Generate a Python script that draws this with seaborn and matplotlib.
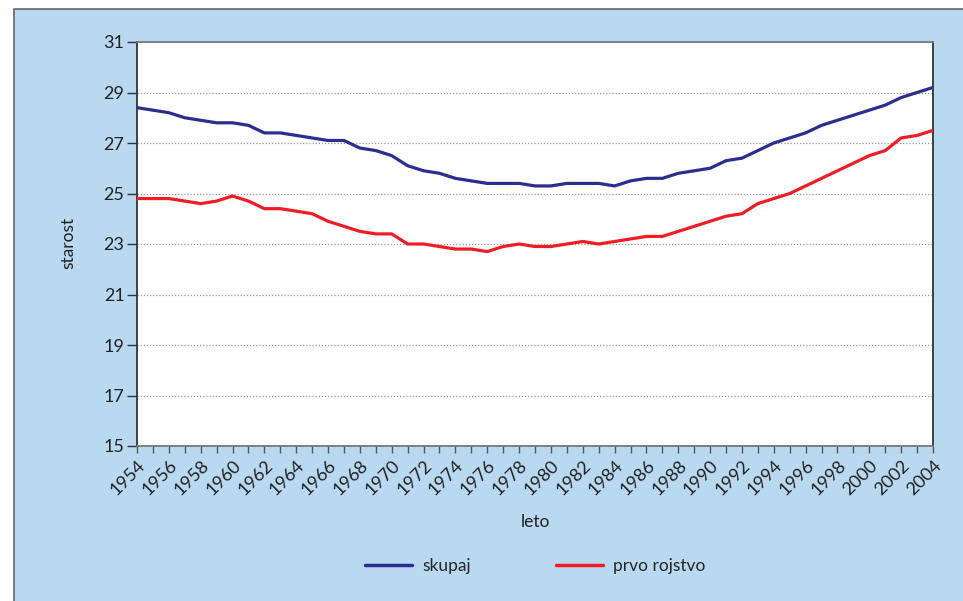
import numpy as np
import pandas as pd
import matplotlib
matplotlib.use("Agg")
import matplotlib.pyplot as plt
from matplotlib.patches import Rectangle
from matplotlib.lines import Line2D
from matplotlib.ticker import MultipleLocator
import seaborn as sns

years = list(range(1954, 2005))
skupaj = [28.4, 28.3, 28.2, 28.0, 27.9, 27.8, 27.8, 27.7, 27.4, 27.4,
          27.3, 27.2, 27.1, 27.1, 26.8, 26.7, 26.5, 26.1, 25.9, 25.8,
          25.6, 25.5, 25.4, 25.4, 25.4, 25.3, 25.3, 25.4, 25.4, 25.4,
          25.3, 25.5, 25.6, 25.6, 25.8, 25.9, 26.0, 26.3, 26.4, 26.7,
          27.0, 27.2, 27.4, 27.7, 27.9, 28.1, 28.3, 28.5, 28.8, 29.0, 29.2]
prvo_rojstvo = [24.8, 24.8, 24.8, 24.7, 24.6, 24.7, 24.9, 24.7, 24.4, 24.4,
                24.3, 24.2, 23.9, 23.7, 23.5, 23.4, 23.4, 23.0, 23.0, 22.9,
                22.8, 22.8, 22.7, 22.9, 23.0, 22.9, 22.9, 23.0, 23.1, 23.0,
                23.1, 23.2, 23.3, 23.3, 23.5, 23.7, 23.9, 24.1, 24.2, 24.6,
                24.8, 25.0, 25.3, 25.6, 25.9, 26.2, 26.5, 26.7, 27.2, 27.3, 27.5]
series_names = ["skupaj", "prvo rojstvo"]
colors = ["#2B2E8E", "#EE1D25"]
x_ticks = list(range(1954, 2005, 2))
y_ticks = list(range(15, 32, 2))

df = pd.DataFrame({
    "leto": years * 2,
    "starost": skupaj + prvo_rojstvo,
    "serija": [series_names[0]] * len(years) + [series_names[1]] * len(years),
})

sns.set_theme(style="white")
plt.rcParams["font.family"] = ["Lato", "DejaVu Sans"]

W, H = 963, 601
fig = plt.figure(figsize=(W / 100, H / 100), dpi=100, facecolor="white")
bg = "#B9D9F1"
fig.patches.append(Rectangle((14 / W, -0.05), 1.2, 1 - 9 / H + 0.05,
                             transform=fig.transFigure, facecolor=bg,
                             edgecolor="#666666", linewidth=1.2, zorder=-10))

ax = fig.add_axes([137 / W, 1 - 446 / H, (933 - 137) / W, (446 - 42) / H])
ax.set_zorder(5)
ax.set_facecolor("white")

sns.lineplot(data=df, x="leto", y="starost", hue="serija",
             palette=colors, hue_order=series_names, linewidth=2.3,
             legend=False, ax=ax, zorder=3)

ax.set_xlim(1954, 2004)
ax.set_ylim(15, 31)
ax.set_xticks(x_ticks)
ax.xaxis.set_minor_locator(MultipleLocator(1))
ax.set_yticks(y_ticks)
ax.set_xticklabels([str(v) for v in x_ticks], rotation=45, ha="right",
                   rotation_mode="anchor", fontsize=13, color="#222222")
ax.set_yticklabels([str(v) for v in y_ticks], fontsize=13, color="#222222")
ax.tick_params(axis="x", which="both", bottom=True, length=5, width=1,
               color="#555555", pad=3)
ax.tick_params(axis="y", which="major", left=True, length=7, width=1,
               color="#333333", pad=2)

for v in y_ticks[1:-1]:
    ax.axhline(v, color="#999999", linestyle=(0, (1, 1.5)), linewidth=0.9, zorder=1)

for side, c in [("left", "#333333"), ("right", "#333333"),
                ("top", "#777777"), ("bottom", "#777777")]:
    ax.spines[side].set_visible(True)
    ax.spines[side].set_color(c)
    ax.spines[side].set_linewidth(1.3)

ax.set_xlabel("leto", fontsize=12.5, color="#222222")
ax.set_ylabel("starost", fontsize=12.5, color="#222222")
ax.xaxis.set_label_coords((535 - 137) / (933 - 137), -(522 - 446) / (446 - 42))
ax.yaxis.set_label_coords(-(137 - 68) / (933 - 137), (446 - 243) / (446 - 42))
ax.xaxis.label.set_verticalalignment("center")
ax.yaxis.label.set_verticalalignment("center")

handles = [Line2D([0], [0], color=c, linewidth=2.5) for c in colors]
fig.legend(handles, series_names, loc="center", ncol=2,
           bbox_to_anchor=(535 / W, 1 - 566 / H), frameon=False,
           fontsize=12.5, handlelength=2.7, columnspacing=4.9,
           handletextpad=0.6)

fig.savefig("out.png", dpi=100, facecolor=fig.get_facecolor())
